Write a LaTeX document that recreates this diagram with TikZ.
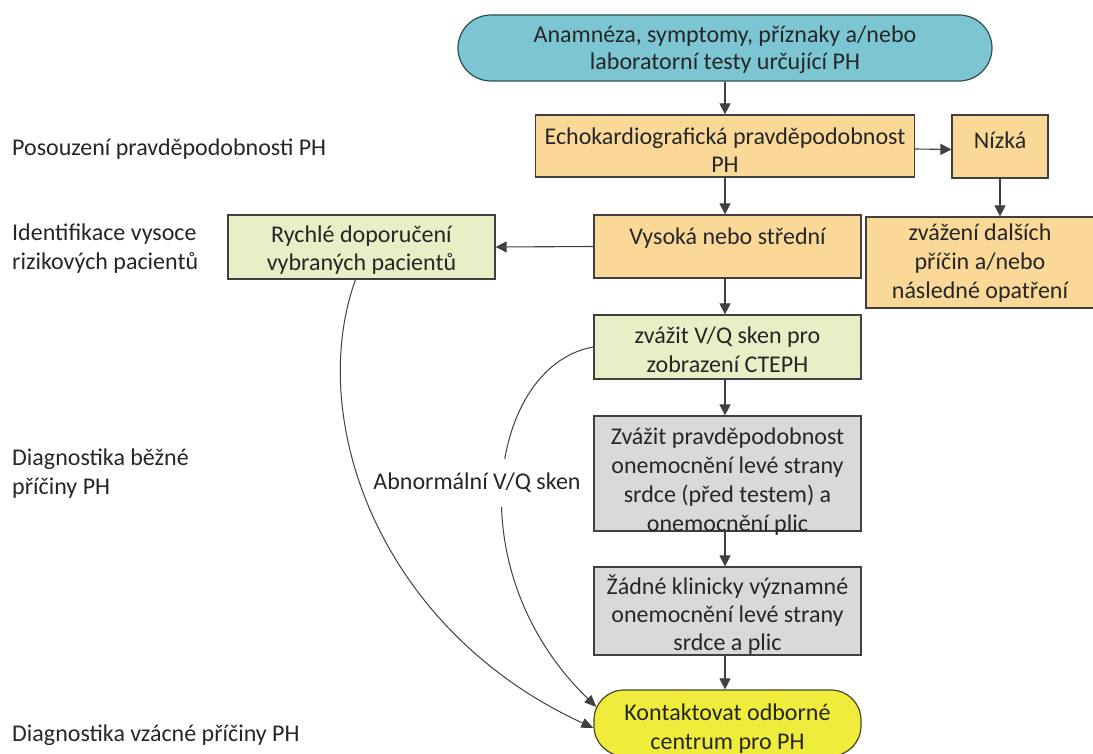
\documentclass[tikz,border=0pt]{standalone}
\usepackage{fontspec}
\setmainfont{Carlito}
\usetikzlibrary{arrows.meta}
\definecolor{cyanfill}{RGB}{124,198,212}
\definecolor{orangefill}{RGB}{250,217,152}
\definecolor{greenfill}{RGB}{230,239,197}
\definecolor{grayfill}{RGB}{217,217,217}
\definecolor{yellowfill}{RGB}{240,236,60}
\definecolor{edge}{RGB}{64,64,64}
\definecolor{txt}{RGB}{38,38,38}
\tikzset{
  box/.style={draw=edge, line width=1.2pt, align=center, inner sep=2pt, text=txt,
              font=\fontsize{24}{28}\selectfont},
  cyanbox/.style={box, fill=cyanfill, rounded corners=33pt, draw={rgb,255:red,45;green,75;blue,85}},
  orangebox/.style={box, fill=orangefill},
  greenbox/.style={box, fill=greenfill},
  graybox/.style={box, fill=grayfill},
  yellowbox/.style={box, fill=yellowfill, rounded corners=30pt, draw={rgb,255:red,70;green,70;blue,40}},
  plaintext/.style={text=txt, align=center, inner sep=0pt, font=\fontsize{24}{29}\selectfont},
  sidelabel/.style={anchor=west, align=left, inner sep=0pt, text=txt, font=\fontsize{24}{29}\selectfont},
  conn/.style={draw=edge, line width=1.1pt, -{Triangle[length=11pt,width=11pt]}},
  curveconn/.style={draw=edge, line width=1.0pt, -{Triangle[length=12pt,width=10pt]}}
}
\begin{document}
\begin{tikzpicture}[x=1pt,y=-1pt]
\clip (0,0) rectangle (1093,754);
\fill[white] (0,0) rectangle (1093,754);

% side labels
\node[sidelabel] (l1) at (12,149) {Posouzení pravděpodobnosti PH};
\node[sidelabel] (l2) at (12,249) {Identifikace vysoce\\rizikových pacientů};
\node[sidelabel] (l3) at (12,474) {Diagnostika běžné\\příčiny PH};
\node[sidelabel] (l4) at (12,735) {Diagnostika vzácné příčiny PH};

% main nodes
\node[cyanbox, minimum width=534pt, minimum height=66pt] (top) at (725,48) {};
\node[plaintext, font=\fontsize{24}{27}\selectfont] (topt) at (725,50)
  {Anamnéza, symptomy, příznaky a/nebo\\laboratorní testy určující PH};
\node[orangebox, minimum width=379pt, minimum height=62pt] (echo) at (725,146) {};
\node[plaintext, font=\fontsize{24}{28}\selectfont] (echot) at (725,150)
  {Echokardiografická pravděpodobnost\\PH};
\node[orangebox, minimum width=96pt, minimum height=63pt, text height=14pt, text depth=10pt] (nizka) at (1000,146.5) {Nízká};
\node[orangebox, minimum width=240pt, minimum height=91pt] (zvaz) at (986,262.5) {};
\node[plaintext] (zvazt) at (980,263)
  {zvážení dalších\\příčin a/nebo\\následné opatření};
\node[orangebox, minimum width=267pt, minimum height=63pt, text height=15pt, text depth=18pt] (vys) at (727.5,246.5)
  {Vysoká nebo střední};
\node[greenbox, minimum width=267pt, minimum height=64pt] (ryc) at (361.5,247) {};
\node[plaintext, font=\fontsize{24}{28}\selectfont] (ryct) at (361.5,250)
  {Rychlé doporučení\\vybraných pacientů};
\node[greenbox, minimum width=267pt, minimum height=64pt] (vq) at (727.5,347) {};
\node[plaintext, font=\fontsize{24}{29}\selectfont] (vqt) at (727.5,350)
  {zvážit V/Q sken pro\\zobrazení CTEPH};
\node[graybox, minimum width=267pt, minimum height=115pt] (g1) at (727.5,473.5) {};
\node[plaintext] (g1t) at (727.5,482)
  {Zvážit pravděpodobnost\\onemocnění levé strany\\srdce (před testem) a\\onemocnění plic};
\node[graybox, minimum width=267pt, minimum height=88pt] (g2) at (727.5,611) {};
\node[plaintext, font=\fontsize{24}{28}\selectfont] (g2t) at (727.5,615)
  {Žádné klinicky významné\\onemocnění levé strany\\srdce a plic};
\node[yellowbox, minimum width=267pt, minimum height=66pt] (yel) at (727.5,723) {};
\node[plaintext] (yelt) at (727.5,729) {Kontaktovat odborné\\centrum pro PH};

% straight connectors
\draw[conn] (top.south -| 725,0) -- (echo.north -| 725,0);
\draw[conn] (echo.south -| 725,0) -- (vys.north -| 725,0);
\draw[conn] ([yshift=-3pt]echo.east) -- ([yshift=-3pt]nizka.west);
\draw[conn] (nizka.south) -- (nizka.south |- zvaz.north);
\draw[conn] (vys.west) -- (ryc.east);
\draw[conn] (vys.south -| 725,0) -- (vq.north -| 725,0);
\draw[conn] (vq.south -| 725,0) -- (g1.north -| 725,0);
\draw[conn] (g1.south -| 725,0) -- (g2.north -| 725,0);
\draw[conn] (g2.south -| 725,0) -- (yel.north -| 725,0);

% curved connectors
\draw[curveconn] ([xshift=-6pt]ryc.south) .. controls (305,420) and (380,630) .. ([yshift=-5pt]yel.west);
\draw[curveconn] (vq.west) .. controls (490,365) and (455,570) .. ([xshift=3pt,yshift=16pt]yel.west);
\node[plaintext, fill=white, inner ysep=14pt] (abn) at (477,483) {Abnormální V/Q sken};
\end{tikzpicture}
\end{document}
